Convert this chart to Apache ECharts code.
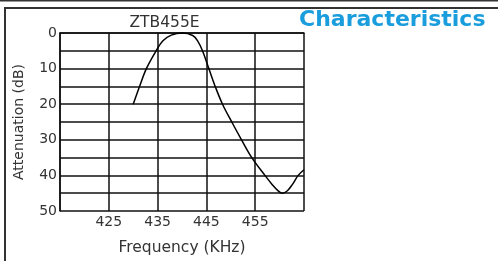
<!DOCTYPE html>
<html><head><meta charset="utf-8">
<script src="https://cdn.jsdelivr.net/npm/echarts@6/dist/echarts.min.js"></script>
<style>html,body{margin:0;padding:0;background:#fff}#c{width:498px;height:261px}</style>
</head><body><div id="c"></div>
<script>
const freq = [430, 431.3, 432.7, 434.7, 436.1, 437.8, 440.1, 442.2, 443.2, 444.2, 445.5, 446.8, 448.3, 450.2, 452.2, 454.3, 457.0, 458.5, 459.6, 460.6, 461.6, 462.6, 463.8, 465];
const atten = [20, 15, 10, 5, 2.2, 0.6, 0, 0.7, 2.2, 5, 10, 15, 20, 25, 30, 35, 40, 42.6, 44.2, 45, 44.3, 42.6, 40, 38.4];
const xTickLabels = [425, 435, 445, 455];
const yTickLabels = [0, 10, 20, 30, 40, 50];
const chartTitle = 'ZTB455E';
const heading = 'Characteristics';
const xName = 'Frequency (KHz)';
const yName = 'Attenuation (dB)';

const font = 'DejaVu Sans';
const chart = echarts.init(document.getElementById('c'), null, {renderer: 'canvas'});
const gridLine = {show: true, lineStyle: {color: '#111', width: 1.5}};
chart.setOption({
  animation: false,
  grid: {left: 60, top: 33, width: 244, height: 186, containLabel: false},
  xAxis: {
    type: 'value', min: 415, max: 465, interval: 10,
    name: xName, nameLocation: 'middle', nameGap: 29,
    nameTextStyle: {fontFamily: font, fontSize: 15.5, color: '#333'},
    axisLine: {show: true, lineStyle: {color: '#111', width: 1.5}},
    axisTick: {show: false},
    splitLine: gridLine,
    axisLabel: {fontFamily: font, fontSize: 14, color: '#333', margin: 4,
      formatter: v => xTickLabels.includes(Math.round(v)) ? String(Math.round(v)) : ''}
  },
  yAxis: {
    type: 'value', min: 0, max: 50, interval: 5, inverse: true,
    name: yName, nameLocation: 'middle', nameGap: 34, nameRotate: 90,
    nameTextStyle: {fontFamily: font, fontSize: 14, color: '#333'},
    axisLine: {show: true, lineStyle: {color: '#111', width: 1.5}},
    axisTick: {show: false},
    splitLine: gridLine,
    axisLabel: {fontFamily: font, fontSize: 14, color: '#333', margin: 3,
      formatter: v => yTickLabels.includes(Math.round(v)) ? String(Math.round(v)) : ''}
  },
  series: [{
    type: 'line', data: freq.map((f, i) => [f, atten[i]]),
    smooth: 0.35, showSymbol: false, clip: false,
    lineStyle: {color: '#000', width: 1.5}
  }],
  graphic: [
    {type: 'line', shape: {x1: 0, y1: 0.5, x2: 498, y2: 0.5}, style: {stroke: '#333', lineWidth: 2}},
    {type: 'line', shape: {x1: 4, y1: 8, x2: 498, y2: 8}, style: {stroke: '#333', lineWidth: 2}},
    {type: 'line', shape: {x1: 5, y1: 7, x2: 5, y2: 261}, style: {stroke: '#333', lineWidth: 2}},
    {type: 'text', x: 164.5, y: 23, style: {text: chartTitle, font: '15.5px "DejaVu Sans"', fill: '#333', textAlign: 'center', textVerticalAlign: 'middle'}},
    {type: 'text', left: 299, top: 9, style: {text: heading, font: 'bold 22px "DejaVu Sans"', fill: '#1a9ddc'}}
  ]
});
</script></body></html>
